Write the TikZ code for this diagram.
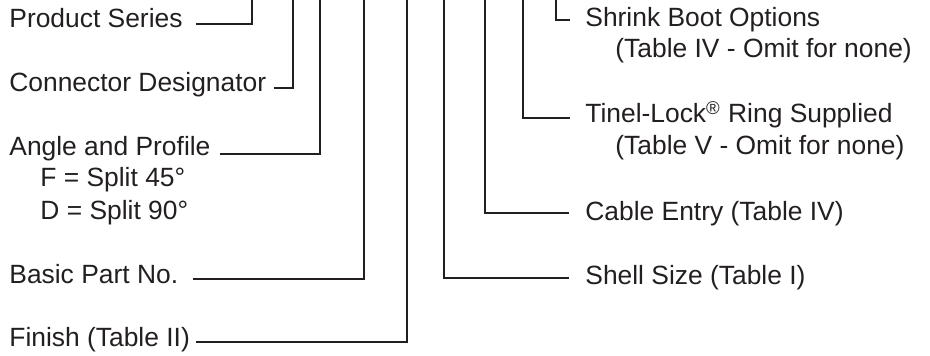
\documentclass[tikz,border=0pt]{standalone}
\usepackage{fontspec}
\setmainfont{Liberation Sans}
\usetikzlibrary{positioning}
\definecolor{ink}{HTML}{231F20}

\begin{document}
\begin{tikzpicture}[x=0.5pt, y=-0.5pt,
  label/.style={anchor=base west, inner sep=0pt, text=ink, font=\fontsize{13.2}{16}\selectfont},
  lead/.style={draw=ink, line width=1pt}]

  \useasboundingbox (0,0) rectangle (930,356);

  % tops of the leaders
  \coordinate (top1) at (252,0);
  \coordinate (top2) at (293,0);
  \coordinate (top3) at (320,0);
  \coordinate (top4) at (364,0);
  \coordinate (top5) at (407,0);
  \coordinate (top6) at (444,0);
  \coordinate (top7) at (485,0);
  \coordinate (top8) at (523,0);
  \coordinate (top9) at (556,0);

  % left labels
  \node[label] (series) at (9,28) {Product Series};
  \node[label] (desig) at (9,92) {Connector Designator};
  \node[label] (angle) at (9,156) {Angle and Profile};
  \node[label] (split45) at (40,187) {F = Split 45°};
  \node[label] (split90) at (40,220) {D = Split 90°};
  \node[label] (basic) at (9,284) {Basic Part No.};
  \node[label] (finish) at (9,347) {Finish (Table II)};

  % right labels
  \node[label] (boot) at (585,27) {Shrink Boot Options};
  \node[label] (bootnote) at (615,58) {(Table IV - Omit for none)};
  \node[label] (ring) at (585,123) {Tinel-Lock\textsuperscript{®} Ring Supplied};
  \node[label] (ringnote) at (615,155) {(Table V - Omit for none)};
  \node[label] (cable) at (585,221) {Cable Entry (Table IV)};
  \node[label] (shell) at (585,285) {Shell Size (Table I)};

  % leaders
  \draw[lead] ([xshift=6.5pt, yshift=2pt]series.base east) -| (top1);
  \draw[lead] ([xshift=3.6pt, yshift=2pt]desig.base east) -| (top2);
  \draw[lead] ([xshift=4.5pt, yshift=1.2pt]angle.base east) -| (top3);
  \draw[lead] ([xshift=7.2pt, yshift=2.5pt]basic.base east) -| (top4);
  \draw[lead] ([xshift=2.8pt, yshift=2.5pt]finish.base east) -| (top5);

  \draw[lead] (top6) |- ([xshift=-8pt, yshift=3.5pt]shell.base west);
  \draw[lead] (top7) |- ([xshift=-8pt, yshift=4pt]cable.base west);
  \draw[lead] (top8) |- ([xshift=-7.5pt, yshift=2.5pt]ring.base west);
  \draw[lead] (top9) |- ([xshift=-7.5pt, yshift=3.5pt]boot.base west);

\end{tikzpicture}
\end{document}
